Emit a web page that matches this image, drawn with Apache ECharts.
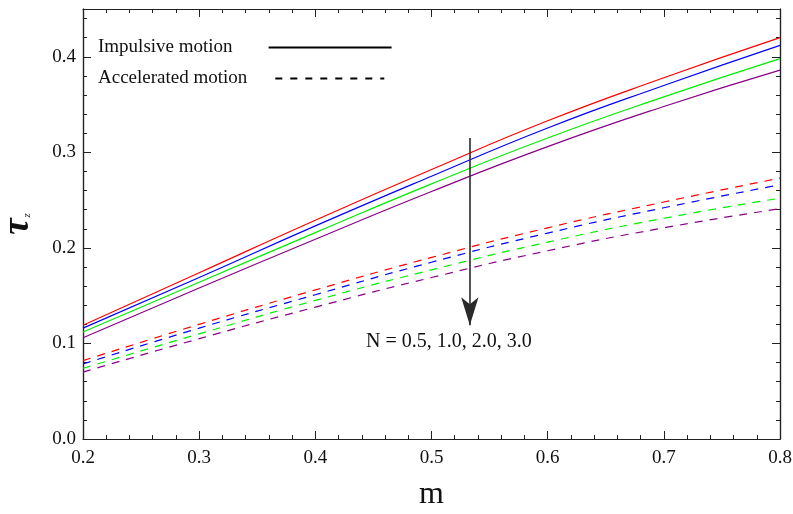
<!DOCTYPE html>
<html>
<head>
<meta charset="utf-8">
<script src="https://cdn.jsdelivr.net/npm/echarts@6/dist/echarts.min.js"></script>
<style>html,body{margin:0;padding:0;background:#fff;}#c{width:793px;height:514px;}</style>
</head>
<body>
<div id="c"></div>
<script>
// ---- data ----
var mValues = [0.2, 0.3, 0.4, 0.5, 0.6, 0.7, 0.8];
var nLabels = ['N = 0.5', 'N = 1.0', 'N = 2.0', 'N = 3.0'];
var lineColors = ['#ff0000', '#0000ff', '#00ee00', '#880088'];
// Impulsive motion (solid)
var impN05 = [0.119, 0.174, 0.229, 0.282, 0.333, 0.378, 0.420];
var impN10 = [0.116, 0.169, 0.223, 0.275, 0.3255, 0.370, 0.412];
var impN20 = [0.112, 0.164, 0.216, 0.267, 0.315, 0.358, 0.398];
var impN30 = [0.106, 0.158, 0.209, 0.259, 0.306, 0.348, 0.386];
// Accelerated motion (dashed)
var accN05 = [0.082, 0.120, 0.156, 0.190, 0.221, 0.248, 0.273];
var accN10 = [0.0785, 0.116, 0.151, 0.185, 0.2155, 0.242, 0.266];
var accN20 = [0.074, 0.110, 0.145, 0.177, 0.206, 0.231, 0.252];
var accN30 = [0.070, 0.105, 0.138, 0.169, 0.197, 0.221, 0.241];
var xTicks = [0.2, 0.3, 0.4, 0.5, 0.6, 0.7, 0.8];
var yTicks = [0.0, 0.1, 0.2, 0.3, 0.4];
var legendNames = ['Impulsive motion', 'Accelerated motion'];
var arrowM = 0.533;
var arrowY = [0.315, 0.119];
var annotText = 'N = 0.5, 1.0, 2.0, 3.0';
var annotPos = [0.515, 0.1015];

var FONT = 'Liberation Serif';
function pairs(ys) { return mValues.map(function (m, i) { return [m, ys[i]]; }); }

var impSets = [impN05, impN10, impN20, impN30];
var accSets = [accN05, accN10, accN20, accN30];
var series = [];
impSets.forEach(function (ys, i) {
  series.push({
    name: nLabels[i] + ' imp', type: 'line', smooth: true, symbol: 'none',
    data: pairs(ys), xAxisIndex: 0, yAxisIndex: 0,
    lineStyle: { color: lineColors[i], width: 1.2, type: 'solid' }, z: 3
  });
});
accSets.forEach(function (ys, i) {
  series.push({
    name: nLabels[i] + ' acc', type: 'line', smooth: true, symbol: 'none',
    data: pairs(ys), xAxisIndex: 0, yAxisIndex: 0,
    lineStyle: { color: lineColors[i], width: 1.2, type: [8, 7] }, z: 3
  });
});
// legend entries
series.push({ name: legendNames[0], type: 'line', symbol: 'none', showSymbol: false, data: [], color: '#000',
  lineStyle: { color: '#000', width: 1.2, type: 'solid' } });
series.push({ name: legendNames[1], type: 'line', symbol: 'none', showSymbol: false, data: [], color: '#000',
  lineStyle: { color: '#000', width: 1.2, type: [7, 8] } });
// arrow + annotation
series[0].markLine = {
  silent: true, symbol: ['none', 'arrow'], symbolSize: [13, 28],
  lineStyle: { color: '#2a2a2a', width: 1.6, type: 'solid' },
  itemStyle: { color: '#000' },
  label: { show: false },
  data: [[{ coord: [arrowM, arrowY[0]] }, { coord: [arrowM, arrowY[1]] }]]
};
series[0].markPoint = {
  silent: true, symbol: 'circle', symbolSize: 0,
  label: { show: true, position: 'inside', formatter: annotText, color: '#111',
           fontFamily: FONT, fontSize: 20 },
  data: [{ coord: annotPos }]
};

var tickColor = '#222';
function axisBase() {
  return {
    type: 'value', splitLine: { show: false },
    axisLine: { show: true, onZero: false, lineStyle: { color: tickColor, width: 1.2 } },
    axisTick: { show: true, inside: true, length: 8, lineStyle: { color: tickColor, width: 1 } },
    axisLabel: { show: false }
  };
}
var xMain = Object.assign(axisBase(), {
  position: 'bottom', min: xTicks[0], max: xTicks[xTicks.length - 1], interval: 0.1,
  minorTick: { show: true, splitNumber: 5, length: 4, lineStyle: { color: tickColor, width: 1 } },
  axisLabel: { show: true, fontFamily: FONT, fontSize: 19, color: '#111', margin: 10,
    formatter: function (v) { return v.toFixed(1); } },
  name: 'm', nameLocation: 'middle', nameGap: 40,
  nameTextStyle: { fontFamily: FONT, fontSize: 32, color: '#111' }
});
var xTop = Object.assign(axisBase(), {
  position: 'top', min: xTicks[0], max: xTicks[xTicks.length - 1], interval: 0.1,
  minorTick: { show: true, splitNumber: 5, length: 4, lineStyle: { color: tickColor, width: 1 } }
});
var yMain = Object.assign(axisBase(), {
  position: 'left', min: 0, max: 0.45, interval: 0.1,
  axisLabel: { show: true, fontFamily: FONT, fontSize: 19, color: '#111', margin: 7,
    formatter: function (v) { return v > yTicks[yTicks.length - 1] + 0.01 ? '' : v.toFixed(1); } },
  name: '{t|τ}{s|z}', nameLocation: 'middle', nameGap: 46, nameRotate: 90,
  nameTextStyle: { rich: {
    t: { fontFamily: FONT, fontSize: 37, fontStyle: 'italic', fontWeight: 'bold', color: '#111' },
    s: { fontFamily: FONT, fontSize: 11, fontStyle: 'italic', color: '#111', verticalAlign: 'bottom', padding: [0, 0, 4, 1] }
  } }
});
var yMinorL = Object.assign(axisBase(), {
  position: 'left', min: 0, max: 0.45, interval: 0.02,
  axisTick: { show: true, inside: true, length: 4, lineStyle: { color: tickColor, width: 1 } }
});
var yRight = Object.assign(axisBase(), { position: 'right', min: 0, max: 0.45, interval: 0.1 });
var yMinorR = Object.assign(axisBase(), {
  position: 'right', min: 0, max: 0.45, interval: 0.02,
  axisTick: { show: true, inside: true, length: 4, lineStyle: { color: tickColor, width: 1 } }
});

var legendCommon = {
  orient: 'vertical', align: 'right', padding: 0, itemHeight: 14, itemGap: 0,
  selectedMode: false, itemStyle: { opacity: 0 }
};
var option = {
  animation: false,
  backgroundColor: '#fff',
  grid: { left: 83, right: 13, top: 9, bottom: 75, containLabel: false, outerBoundsMode: 'none' },
  xAxis: [xMain, xTop],
  yAxis: [yMain, yMinorL, yRight, yMinorR],
  legend: [
    Object.assign({}, legendCommon, { data: [legendNames[0]], left: 98, top: 38, itemWidth: 123,
      textStyle: { fontFamily: FONT, fontSize: 19, color: '#111', padding: [0, 31, 0, 0] } }),
    Object.assign({}, legendCommon, { data: [legendNames[1]], left: 98, top: 69, itemWidth: 109,
      textStyle: { fontFamily: FONT, fontSize: 19, color: '#111', padding: [0, 23, 0, 0] } })
  ],
  series: series
};
var chart = echarts.init(document.getElementById('c'), null, { renderer: 'canvas' });
chart.setOption(option);
</script>
</body>
</html>
